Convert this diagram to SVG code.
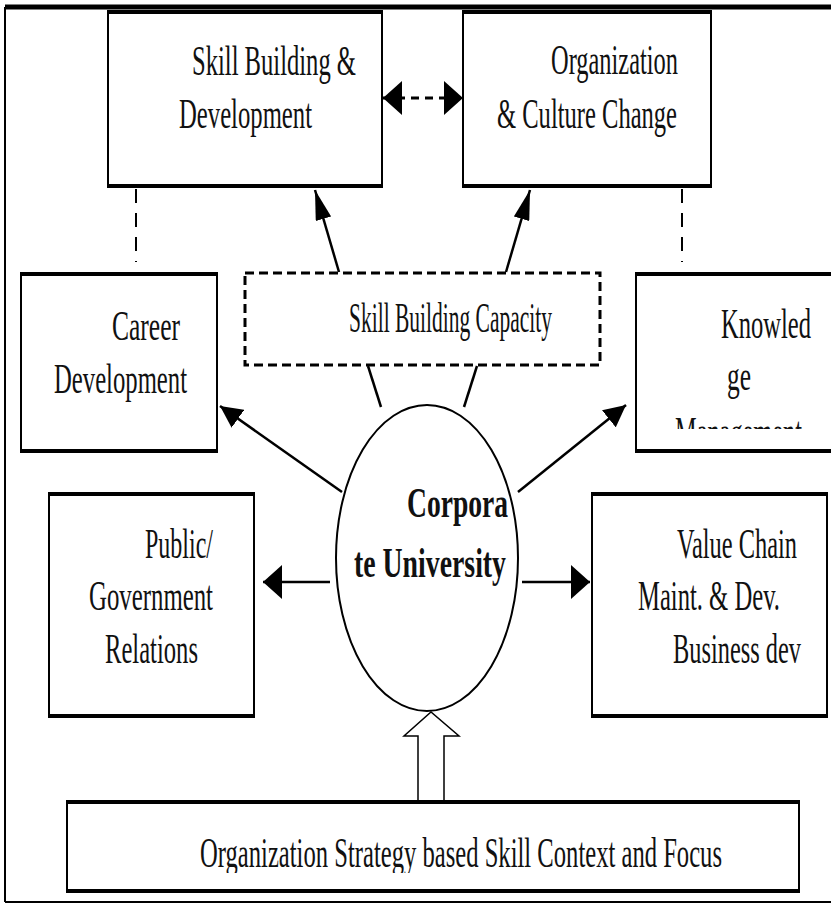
<svg xmlns="http://www.w3.org/2000/svg" width="831" height="906" viewBox="0 0 831 906">
<style>
.box{fill:#fff;stroke:#000;stroke-width:2}
.edge{stroke:#000;stroke-width:4}
.t{font-family:"Liberation Serif","Times New Roman",serif;font-size:42px;fill:#111}
.tb{font-family:"Liberation Serif","Times New Roman",serif;font-size:42px;font-weight:bold;fill:#111}
.ln{stroke:#000;stroke-width:2.5;fill:none}
.dash{stroke:#000;stroke-width:2;stroke-dasharray:14,10;fill:none}
</style>
<defs>
<marker id="ahUp" viewBox="0 0 10 10" refX="10" refY="5" markerWidth="30" markerHeight="16" markerUnits="userSpaceOnUse" orient="auto" preserveAspectRatio="none">
<path d="M0,0 L10,5 L0,10 z" fill="#000"/>
</marker>
<marker id="ahDiag" viewBox="0 0 10 10" refX="10" refY="5" markerWidth="22" markerHeight="22" markerUnits="userSpaceOnUse" orient="auto" preserveAspectRatio="none">
<path d="M0,0 L10,5 L0,10 z" fill="#000"/>
</marker>
<marker id="ahSide" viewBox="0 0 10 10" refX="10" refY="5" markerWidth="19" markerHeight="34" markerUnits="userSpaceOnUse" orient="auto-start-reverse" preserveAspectRatio="none">
<path d="M0,0 L10,5 L0,10 z" fill="#000"/>
</marker>
<clipPath id="kclip"><rect x="636" y="273" width="200" height="156"/></clipPath>
<clipPath id="bclip"><rect x="67" y="801" width="732" height="72"/></clipPath>
</defs>
<rect width="831" height="906" fill="#fff"/>
<g id="frame">
<line x1="5" y1="7" x2="831" y2="7" stroke="#000" stroke-width="5"/>
<line x1="5" y1="7" x2="5" y2="902" stroke="#000" stroke-width="2"/>
<line x1="5" y1="902" x2="831" y2="902" stroke="#000" stroke-width="2"/>
</g>
<g id="connectors">
<line x1="383" y1="98" x2="463" y2="98" stroke="#000" stroke-width="3" stroke-dasharray="8,6" marker-start="url(#ahSide)" marker-end="url(#ahSide)"/>
<line x1="136" y1="189" x2="136" y2="262" class="dash"/>
<line x1="682" y1="189" x2="682" y2="262" class="dash"/>
<line x1="339" y1="272" x2="315" y2="190" class="ln" marker-end="url(#ahUp)"/>
<line x1="506" y1="272" x2="530" y2="190" class="ln" marker-end="url(#ahUp)"/>
<line x1="381" y1="407" x2="368" y2="366" class="ln" stroke-width="2"/>
<line x1="464" y1="407" x2="477" y2="366" class="ln" stroke-width="2"/>
<line x1="342" y1="492" x2="220" y2="406" class="ln" stroke-width="3" marker-end="url(#ahDiag)"/>
<line x1="518" y1="492" x2="626" y2="405" class="ln" stroke-width="3" marker-end="url(#ahDiag)"/>
<line x1="330" y1="582" x2="263" y2="582" class="ln" stroke-width="4" marker-end="url(#ahSide)"/>
<line x1="522" y1="582" x2="590" y2="582" class="ln" stroke-width="4" marker-end="url(#ahSide)"/>
<path d="M418,800 L418,736 L404,736 L431,712 L459,736 L444,736 L444,800" fill="#fff" stroke="#000" stroke-width="1.5"/>
</g>
<g id="skill-building">
<rect x="108" y="12" width="274" height="174" class="box"/>
<line x1="107" y1="12" x2="383" y2="12" class="edge"/>
<line x1="107" y1="186" x2="383" y2="186" class="edge"/>
<text x="192" y="75" class="t" textLength="164" lengthAdjust="spacingAndGlyphs">Skill Building &amp;</text>
<text x="179" y="128" class="t" textLength="133" lengthAdjust="spacingAndGlyphs">Development</text>
</g>
<g id="org-culture">
<rect x="463" y="12" width="248" height="174" class="box"/>
<line x1="462" y1="12" x2="712" y2="12" class="edge"/>
<line x1="462" y1="186" x2="712" y2="186" class="edge"/>
<text x="551" y="74" class="t" textLength="127" lengthAdjust="spacingAndGlyphs">Organization</text>
<text x="497" y="128" class="t" textLength="180" lengthAdjust="spacingAndGlyphs">&amp; Culture Change</text>
</g>
<g id="skill-capacity">
<rect x="245" y="273" width="355" height="92" fill="#fff" stroke="#000" stroke-width="3" stroke-dasharray="9,5"/>
<text x="349" y="332" class="t" font-size="30" textLength="203" lengthAdjust="spacingAndGlyphs">Skill Building Capacity</text>
</g>
<g id="career">
<rect x="21" y="274" width="196" height="177" class="box"/>
<line x1="20" y1="274" x2="218" y2="274" class="edge"/>
<line x1="20" y1="451" x2="218" y2="451" class="edge"/>
<text x="112" y="340" class="t" textLength="68" lengthAdjust="spacingAndGlyphs">Career</text>
<text x="54" y="393" class="t" textLength="133" lengthAdjust="spacingAndGlyphs">Development</text>
</g>
<g id="knowledge">
<rect x="636" y="274" width="200" height="177" class="box"/>
<line x1="635" y1="274" x2="836" y2="274" class="edge"/>
<line x1="635" y1="451" x2="836" y2="451" class="edge"/>
<text x="721" y="338" class="t" textLength="90" lengthAdjust="spacingAndGlyphs">Knowled</text>
<text x="727" y="390" class="t" textLength="24" lengthAdjust="spacingAndGlyphs">ge</text>
<text x="675" y="446" class="t" textLength="127" lengthAdjust="spacingAndGlyphs" clip-path="url(#kclip)">Management</text>
</g>
<g id="corporate-university">
<ellipse cx="427" cy="558" rx="91" ry="153" fill="#fff" stroke="#000" stroke-width="2"/>
<text x="407" y="517" class="tb" textLength="101" lengthAdjust="spacingAndGlyphs">Corpora</text>
<text x="354" y="577" class="tb" textLength="152" lengthAdjust="spacingAndGlyphs">te University</text>
</g>
<g id="public-gov">
<rect x="49" y="494" width="205" height="222" class="box"/>
<line x1="48" y1="494" x2="255" y2="494" class="edge"/>
<line x1="48" y1="716" x2="255" y2="716" class="edge"/>
<text x="145" y="558" class="t" textLength="68" lengthAdjust="spacingAndGlyphs">Public/</text>
<text x="89" y="610" class="t" textLength="124" lengthAdjust="spacingAndGlyphs">Government</text>
<text x="105" y="663" class="t" textLength="93" lengthAdjust="spacingAndGlyphs">Relations</text>
</g>
<g id="value-chain">
<rect x="592" y="494" width="235" height="222" class="box"/>
<line x1="591" y1="494" x2="828" y2="494" class="edge"/>
<line x1="591" y1="716" x2="828" y2="716" class="edge"/>
<text x="677" y="558" class="t" textLength="120" lengthAdjust="spacingAndGlyphs">Value Chain</text>
<text x="638" y="610" class="t" textLength="142" lengthAdjust="spacingAndGlyphs">Maint. &amp; Dev.</text>
<text x="673" y="663" class="t" textLength="128" lengthAdjust="spacingAndGlyphs">Business dev</text>
</g>
<g id="strategy">
<rect x="67" y="802" width="732" height="89" class="box"/>
<line x1="66" y1="802" x2="800" y2="802" class="edge"/>
<line x1="66" y1="891" x2="800" y2="891" class="edge"/>
<text x="200" y="867" class="t" textLength="522" lengthAdjust="spacingAndGlyphs" clip-path="url(#bclip)">Organization Strategy based Skill Context and Focus</text>
</g>
</svg>
